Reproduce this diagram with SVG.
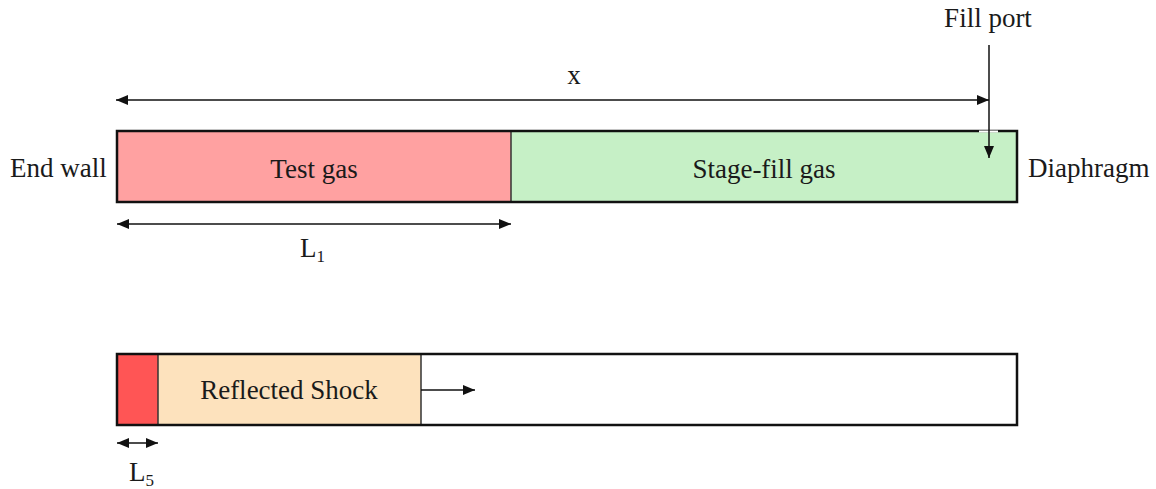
<svg xmlns="http://www.w3.org/2000/svg" width="1156" height="489" viewBox="0 0 1156 489">
<style>
text{font-family:"Liberation Serif","Times New Roman",serif;font-size:27px;fill:#1a1a1a}
.sub{font-size:17px}
.tube{stroke:#111;stroke-width:2.5}
.div{stroke:#333;stroke-width:1.5}
.ln{stroke:#111;stroke-width:1.5;fill:none}
</style>
<defs>
<marker id="ah" viewBox="0 0 12 10" refX="12" refY="5" markerWidth="12" markerHeight="10" markerUnits="userSpaceOnUse" orient="auto-start-reverse">
<path d="M0,0 L12,5 L0,10 z" fill="#111"/>
</marker>
</defs>
<rect width="1156" height="489" fill="#fff"/>
<g id="tube-top">
<rect x="117" y="131" width="394" height="71" fill="#ffa1a1"/>
<rect x="511" y="131" width="506" height="71" fill="#c6f0c6"/>
<line class="div" x1="511" y1="131" x2="511" y2="202"/>
<rect class="tube" x="117" y="131" width="900" height="71" fill="none"/>
<line x1="979" y1="131.5" x2="998" y2="131.5" stroke="#fff" stroke-width="2"/>
<text x="314" y="178" text-anchor="middle">Test gas</text>
<text x="764" y="178" text-anchor="middle">Stage-fill gas</text>
</g>
<g id="tube-bottom">
<rect x="117" y="354" width="41" height="71" fill="#ff5555"/>
<rect x="158" y="354" width="263" height="71" fill="#fde2bd"/>
<rect x="421" y="354" width="596" height="71" fill="#fff"/>
<line class="div" x1="158" y1="354" x2="158" y2="425"/>
<line class="div" x1="421" y1="354" x2="421" y2="425"/>
<rect class="tube" x="117" y="354" width="900" height="71" fill="none"/>
<text x="289" y="399" text-anchor="middle">Reflected Shock</text>
</g>
<g id="labels">
<text x="10" y="177">End wall</text>
<text x="1028" y="177">Diaphragm</text>
<text x="988" y="27" text-anchor="middle">Fill port</text>
<text x="574" y="84" text-anchor="middle">x</text>
<text x="300" y="257">L<tspan class="sub" dy="5">1</tspan></text>
<text x="129" y="481">L<tspan class="sub" dy="5">5</tspan></text>
</g>
<g id="connectors">
<line class="ln" x1="116" y1="100" x2="989" y2="100" marker-start="url(#ah)" marker-end="url(#ah)"/>
<line class="ln" x1="989" y1="45" x2="989" y2="158" marker-end="url(#ah)"/>
<line class="ln" x1="117" y1="224" x2="511" y2="224" marker-start="url(#ah)" marker-end="url(#ah)"/>
<line class="ln" x1="421" y1="390" x2="475" y2="390" marker-end="url(#ah)"/>
<line class="ln" x1="117" y1="443" x2="158" y2="443" marker-start="url(#ah)" marker-end="url(#ah)"/>
</g>
</svg>
